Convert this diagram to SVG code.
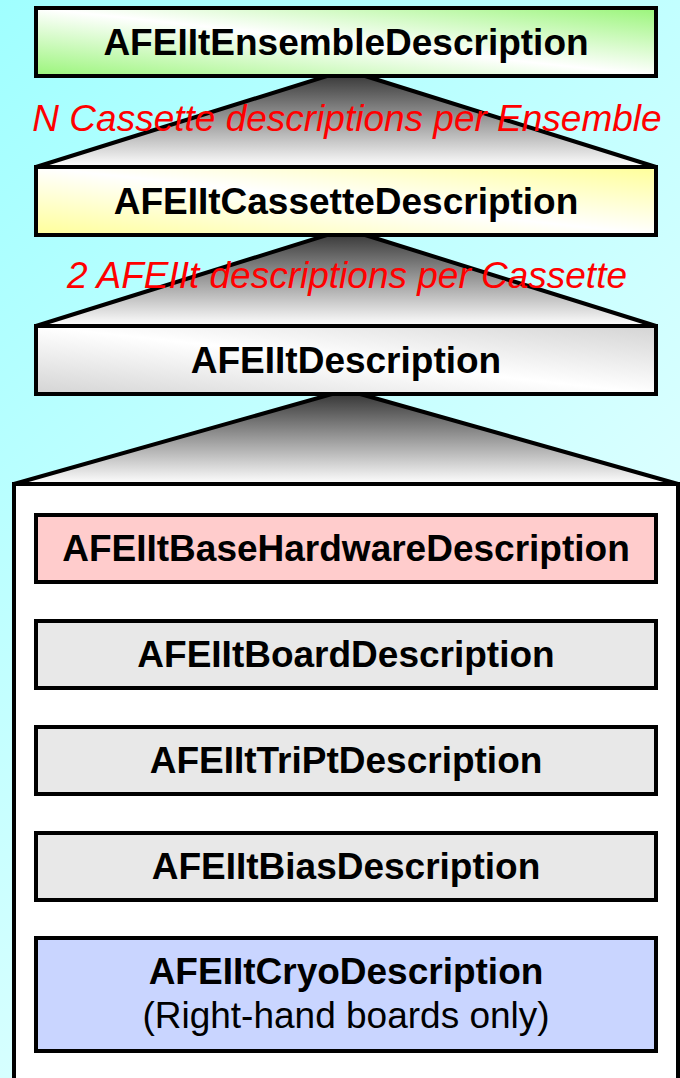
<svg xmlns="http://www.w3.org/2000/svg" width="680" height="1078" viewBox="0 0 680 1078">
  <defs>
    <linearGradient id="bg" gradientUnits="userSpaceOnUse" x1="0" y1="0" x2="879" y2="879">
      <stop offset="0" stop-color="#a0ffff"/>
      <stop offset="1" stop-color="#f8ffff"/>
    </linearGradient>
    <linearGradient id="gGreen" x1="1" y1="0" x2="0" y2="1">
      <stop offset="0" stop-color="#9af57a"/>
      <stop offset="0.5" stop-color="#ffffff"/>
      <stop offset="1" stop-color="#9af57a"/>
    </linearGradient>
    <linearGradient id="gYellow" x1="1" y1="0" x2="0" y2="1">
      <stop offset="0" stop-color="#ffff99"/>
      <stop offset="0.5" stop-color="#ffffff"/>
      <stop offset="1" stop-color="#ffff99"/>
    </linearGradient>
    <linearGradient id="gGray" x1="1" y1="0" x2="0" y2="1">
      <stop offset="0" stop-color="#d4d4d4"/>
      <stop offset="0.5" stop-color="#ffffff"/>
      <stop offset="1" stop-color="#d4d4d4"/>
    </linearGradient>
    <linearGradient id="gTri" x1="0" y1="0" x2="0" y2="1">
      <stop offset="0" stop-color="#2e2e2e"/>
      <stop offset="1" stop-color="#ffffff"/>
    </linearGradient>
    <style>
      .box { stroke: #000; stroke-width: 4; }
      .tri { fill: url(#gTri); stroke: #000; stroke-width: 4; stroke-linejoin: miter; }
      .lbl { font-family: "Liberation Sans", Arial, sans-serif; font-size: 37px; font-weight: bold; fill: #000; text-anchor: middle; }
      .sub { font-family: "Liberation Sans", Arial, sans-serif; font-size: 37px; fill: #000; text-anchor: middle; }
      .mult { font-family: "Liberation Sans", Arial, sans-serif; font-size: 37px; font-style: italic; fill: #ff0000; text-anchor: middle; }
    </style>
  </defs>

  <rect x="0" y="0" width="680" height="1078" fill="url(#bg)"/>

  <g id="container">
    <rect x="14" y="484" width="664" height="620" fill="#ffffff" stroke="#000" stroke-width="4"/>
  </g>

  <g id="connectors">
    <polygon class="tri" points="346,70 656,167 36,167"/>
    <polygon class="tri" points="346,229 656,326 36,326"/>
    <polygon class="tri" points="346,390 678,484 14,484"/>
    <text class="mult" x="347" y="131">N Cassette descriptions per Ensemble</text>
    <text class="mult" x="347" y="288">2 AFEIIt descriptions per Cassette</text>
  </g>

  <g id="ensemble">
    <rect class="box" x="36" y="8" width="620" height="68" fill="url(#gGreen)"/>
    <text class="lbl" x="346" y="55">AFEIItEnsembleDescription</text>
  </g>

  <g id="cassette">
    <rect class="box" x="36" y="167" width="620" height="68" fill="url(#gYellow)"/>
    <text class="lbl" x="346" y="214">AFEIItCassetteDescription</text>
  </g>

  <g id="afeiit">
    <rect class="box" x="36" y="326" width="620" height="68" fill="url(#gGray)"/>
    <text class="lbl" x="346" y="373">AFEIItDescription</text>
  </g>

  <g id="basehardware">
    <rect class="box" x="36" y="515" width="620" height="67" fill="#ffcccc"/>
    <text class="lbl" x="346" y="561">AFEIItBaseHardwareDescription</text>
  </g>

  <g id="board">
    <rect class="box" x="36" y="621" width="620" height="67" fill="#e8e8e8"/>
    <text class="lbl" x="346" y="667">AFEIItBoardDescription</text>
  </g>

  <g id="tript">
    <rect class="box" x="36" y="727" width="620" height="67" fill="#e8e8e8"/>
    <text class="lbl" x="346" y="773">AFEIItTriPtDescription</text>
  </g>

  <g id="bias">
    <rect class="box" x="36" y="833" width="620" height="67" fill="#e8e8e8"/>
    <text class="lbl" x="346" y="879">AFEIItBiasDescription</text>
  </g>

  <g id="cryo">
    <rect class="box" x="36" y="938" width="620" height="113" fill="#c9d5ff"/>
    <text class="lbl" x="346" y="984">AFEIItCryoDescription</text>
    <text class="sub" x="346" y="1028">(Right-hand boards only)</text>
  </g>
</svg>
